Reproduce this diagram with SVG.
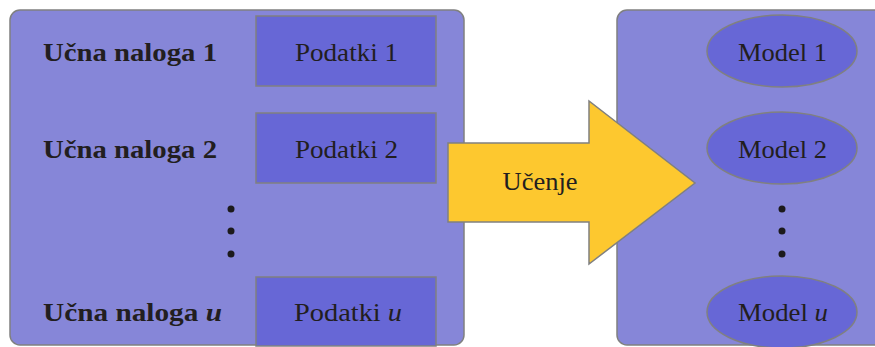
<svg xmlns="http://www.w3.org/2000/svg" width="875" height="347" viewBox="0 0 875 347">
  <style>
    .panel { fill: #8686d8; stroke: #808080; stroke-width: 1.5; }
    .box { fill: #6767d6; stroke: #808080; stroke-width: 1.5; }
    .arrow { fill: #fdc82f; stroke: #808080; stroke-width: 1.5; stroke-linejoin: miter; }
    .t { font-family: "Liberation Serif", "DejaVu Serif", serif; font-size: 26px; fill: #221e20; }
    .b { font-weight: bold; }
    .c { text-anchor: middle; }
    .dot { fill: #1c1a1c; }
  </style>
  <rect width="875" height="347" fill="#ffffff"/>

  <!-- tasks panel -->
  <g id="tasks">
    <rect class="panel" x="10" y="10" width="454" height="335" rx="10"/>
    <g id="task1">
      <text class="t b" x="43" y="61" textLength="174" lengthAdjust="spacingAndGlyphs">Učna naloga 1</text>
      <rect class="box" x="256" y="16" width="180" height="70"/>
      <text class="t" x="295" y="61" textLength="103" lengthAdjust="spacingAndGlyphs">Podatki 1</text>
    </g>
    <g id="task2">
      <text class="t b" x="43" y="158" textLength="174" lengthAdjust="spacingAndGlyphs">Učna naloga 2</text>
      <rect class="box" x="256" y="113" width="180" height="70"/>
      <text class="t" x="295" y="158" textLength="103" lengthAdjust="spacingAndGlyphs">Podatki 2</text>
    </g>
    <g id="task-dots">
      <circle class="dot" cx="231" cy="209" r="3.5"/>
      <circle class="dot" cx="231" cy="231" r="3.5"/>
      <circle class="dot" cx="231" cy="254" r="3.5"/>
    </g>
    <g id="taskU">
      <text class="t b" x="43" y="321" textLength="179" lengthAdjust="spacingAndGlyphs">Učna naloga <tspan font-style="italic">u</tspan></text>
      <rect class="box" x="256" y="277" width="180" height="69"/>
      <text class="t" x="294" y="321" textLength="108" lengthAdjust="spacingAndGlyphs">Podatki <tspan font-style="italic">u</tspan></text>
    </g>
  </g>

  <!-- models panel -->
  <g id="models">
    <rect class="panel" x="617" y="10" width="275" height="335" rx="10"/>
    <g id="model1">
      <ellipse class="box" cx="782" cy="51" rx="75" ry="36"/>
      <text class="t" x="738" y="61" textLength="89" lengthAdjust="spacingAndGlyphs">Model 1</text>
    </g>
    <g id="model2">
      <ellipse class="box" cx="782" cy="148" rx="75" ry="36"/>
      <text class="t" x="738" y="158" textLength="89" lengthAdjust="spacingAndGlyphs">Model 2</text>
    </g>
    <g id="model-dots">
      <circle class="dot" cx="782" cy="209" r="3.5"/>
      <circle class="dot" cx="782" cy="231" r="3.5"/>
      <circle class="dot" cx="782" cy="254" r="3.5"/>
    </g>
    <g id="modelU">
      <ellipse class="box" cx="782" cy="312" rx="75" ry="36"/>
      <text class="t" x="738" y="321" textLength="90" lengthAdjust="spacingAndGlyphs">Model <tspan font-style="italic">u</tspan></text>
    </g>
  </g>

  <!-- learning arrow -->
  <g id="connectors">
    <g id="learning">
      <polygon class="arrow" points="448,143 589,143 589,101 695,183 589,264 589,222 448,222"/>
      <text class="t c" x="540" y="190" textLength="75" lengthAdjust="spacingAndGlyphs">Učenje</text>
    </g>
  </g>
</svg>
